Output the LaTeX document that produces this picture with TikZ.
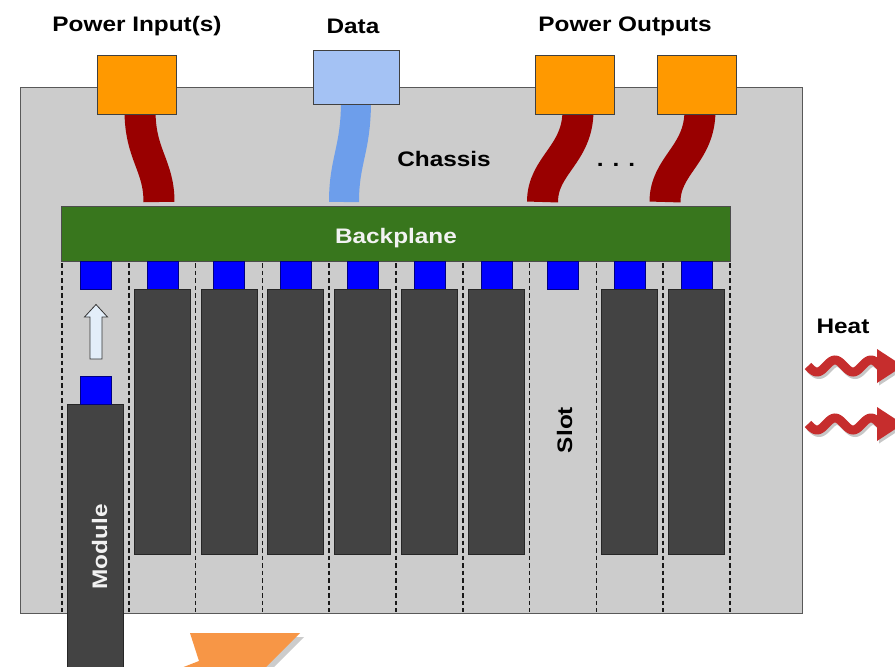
\documentclass[tikz,border=0pt]{standalone}
\usepackage{fontspec}
\setmainfont{Liberation Sans}[FakeStretch=1.16]
\definecolor{chassisG}{HTML}{CCCCCC}
\definecolor{orangeB}{HTML}{FF9900}
\definecolor{dataB}{HTML}{A4C2F4}
\definecolor{cableR}{HTML}{990000}
\definecolor{cableB}{HTML}{6D9EEB}
\definecolor{bpG}{HTML}{38761D}
\definecolor{connB}{HTML}{0000FF}
\definecolor{modG}{HTML}{434343}
\definecolor{heatR}{HTML}{C62D2D}
\definecolor{arrowO}{HTML}{F79646}
\definecolor{insB}{HTML}{E3EEF9}
\begin{document}
\begin{tikzpicture}[x=1pt,y=-1pt,
  lbl/.style={font=\bfseries\fontsize{21}{25}\selectfont, inner sep=0pt, anchor=base},
  chassisbox/.style={draw=black!65, fill=chassisG, line width=1.2pt, inner sep=0pt, anchor=north west},
  pwrbox/.style={draw=black!75, fill=orangeB, line width=0.8pt, minimum width=79pt, minimum height=59pt, inner sep=0pt},
  databox/.style={draw=black!75, fill=dataB, line width=0.8pt, minimum width=86pt, minimum height=54pt, inner sep=0pt},
  cable/.style={line width=31pt, draw=cableR},
  datacable/.style={line width=30pt, draw=cableB},
  bpbox/.style={draw=black!70, fill=bpG, line width=0.8pt, inner sep=0pt, anchor=north west},
  conn/.style={draw=blue!50!black, fill=connB, line width=0.4pt, minimum width=31pt, minimum height=28pt, inner sep=0pt},
  modbox/.style={draw=black!85, fill=modG, line width=0.8pt, minimum width=56pt, inner sep=0pt, anchor=north},
  slotline/.style={dash pattern=on 4.5pt off 3pt, line width=1.5pt, draw=black!90},
  heat/.style={line width=9pt, draw=heatR},
]
\clip (0,0) rectangle (895,667);
\fill[white] (0,0) rectangle (895,667);

% chassis
\node[chassisbox, minimum width=782pt, minimum height=526pt] (chassis) at (20,87) {};

% boxes (named first so cables can use them)
\node[pwrbox] (pin) at (136.5,84.5) {};
\node[databox] (data) at (356,77) {};
\node[pwrbox] (pout1) at (575,84.5) {};
\node[pwrbox] (pout2) at (696.5,84.5) {};

% backplane
\node[bpbox, minimum width=669pt, minimum height=55pt] (bp) at (61,206) {};
\coordinate (c1) at (159,206);
\coordinate (c2) at (344,206);
\coordinate (c3) at (542.5,206);
\coordinate (c4) at (665,206);

% cables (drawn under boxes and backplane)
\draw[cable] ([xshift=3.5pt]pin.south) ++(0,-4) .. controls (140,155) and (159,165) .. ([yshift=4pt]c1);
\draw[datacable] (data.south) ++(0,-4) .. controls (356,150) and (344,160) .. ([yshift=4pt]c2);
\draw[cable] ([xshift=3pt]pout1.south) ++(0,-4) .. controls (578,155) and (542.5,165) .. ([yshift=4pt]c3);
\draw[cable] ([xshift=3.5pt]pout2.south) ++(0,-4) .. controls (700,155) and (665,165) .. ([yshift=4pt]c4);

% redraw boxes and backplane on top
\node[pwrbox] at (pin) {};
\node[databox] at (data) {};
\node[pwrbox] at (pout1) {};
\node[pwrbox] at (pout2) {};
\node[bpbox, minimum width=669pt, minimum height=55pt] at (61,206) {};

% slot separators
\foreach \i in {0,...,10} {
  \draw[slotline] ({62+66.8*\i},263) -- ({62+66.8*\i},612);
}

% connectors on backplane
\foreach \i in {0,...,9} {
  \node[conn] (k\i) at ({95.4+66.8*\i},275) {};
}

% installed modules
\foreach \i in {1,2,3,4,5,6,8,9} {
  \node[modbox, minimum height=265pt] (m\i) at ({95.4+66.8*\i},289) {};
}

% module being inserted
\node[modbox, minimum height=275pt] (m0) at (95.4,404) {};
\node[conn] (k0b) at (95.4,390.5) {};
\draw[draw=black!80, fill=insB, line width=0.8pt, line join=miter]
  (90,359) -- (90,317) -- (84.5,317) -- (96,304.5) -- (107.5,317) -- (102,317) -- (102,359) -- cycle;

% heat arrows
\foreach \yy in {366,424} {
  \begin{scope}[shift={(2,2.5)}, opacity=0.22]
    \draw[line width=9pt, draw=black] plot[domain=808:880, samples=60] (\x, {\yy + 6*sin((\x-808)*10)});
    \fill[black] (877,\yy-17) -- (903,\yy) -- (877,\yy+17) -- cycle;
  \end{scope}
  \draw[heat] plot[domain=808:880, samples=60] (\x, {\yy + 6*sin((\x-808)*10)});
  \fill[heatR] (877,\yy-17) -- (903,\yy) -- (877,\yy+17) -- cycle;
}

% orange arrow at bottom
\fill[black, opacity=0.2] (194,637) -- (304,637) -- (270,671) -- (186,671) -- (203,665) -- cycle;
\fill[arrowO] (190,633) -- (300,633) -- (265,668) -- (181,668) -- (199,661) -- cycle;

% labels
\node[lbl] (tpin) at (137,31.5) {Power Input(s)};
\node[lbl] (tdata) at (353,33) {Data};
\node[lbl] (tpout) at (625,31.5) {Power Outputs};
\node[lbl] (tchassis) at (444,166.5) {Chassis};
\node[lbl] (tdots) at (616,166) {. . .};
\node[lbl, text=white!95!black] (tbp) at (396,243) {Backplane};
\node[lbl] (theat) at (843,333) {Heat};
\node[lbl, rotate=90] (tslot) at (572,430) {Slot};
\node[lbl, rotate=90, text=white!95!black] (tmod) at (107,547) {Module};
\end{tikzpicture}
\end{document}
